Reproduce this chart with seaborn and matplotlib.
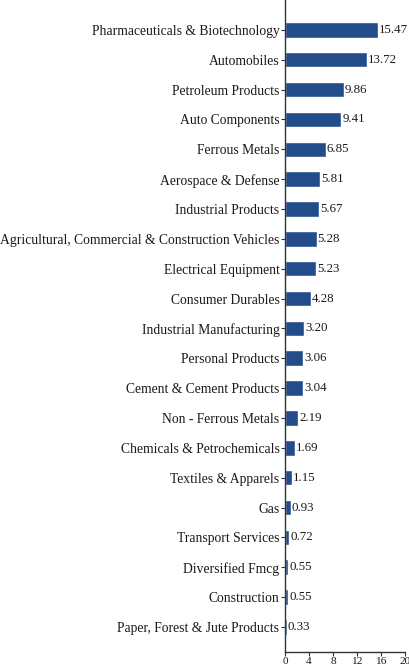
import matplotlib
matplotlib.use("Agg")
import matplotlib.pyplot as plt
import seaborn as sns
import pandas as pd

sectors = [
    "Pharmaceuticals & Biotechnology", "Automobiles", "Petroleum Products",
    "Auto Components", "Ferrous Metals", "Aerospace & Defense",
    "Industrial Products", "Agricultural, Commercial & Construction Vehicles",
    "Electrical Equipment", "Consumer Durables", "Industrial Manufacturing",
    "Personal Products", "Cement & Cement Products", "Non - Ferrous Metals",
    "Chemicals & Petrochemicals", "Textiles & Apparels", "Gas",
    "Transport Services", "Diversified Fmcg", "Construction",
    "Paper, Forest & Jute Products",
]
weights = [15.47, 13.72, 9.86, 9.41, 6.85, 5.81, 5.67, 5.28, 5.23, 4.28, 3.20,
           3.06, 3.04, 2.19, 1.69, 1.15, 0.93, 0.72, 0.55, 0.55, 0.33]
x_ticks = [0, 4, 8, 12, 16, 20]

df = pd.DataFrame({"sector": sectors, "weight": weights})

sns.set_style("white")
plt.rcParams["font.family"] = ["Liberation Serif", "DejaVu Serif"]

fig = plt.figure(figsize=(4.10, 6.71), dpi=100)
ax = fig.add_axes([285 / 410, 1 - 652 / 671, 120 / 410, 652 / 671])

bar_color = "#234d8a"
sns.barplot(data=df, x="weight", y="sector", color=bar_color, width=0.52,
            saturation=1, ax=ax)

for i, v in enumerate(weights):
    ax.text(v + 0.15, i, f"{v:.2f}", va="center", ha="left", fontsize=9.3,
            color="#1a1a1a")

ax.set_xlim(0, 20)
ax.set_ylim(20.84, -1.0)
ax.set_xticks(x_ticks)
ax.set_xticklabels([str(t) for t in x_ticks], fontsize=8.2, color="#1a1a1a")
ax.tick_params(axis="y", labelsize=9.8, labelcolor="#1a1a1a", length=3,
               width=0.8, color="#333333", pad=1, left=True)
ax.tick_params(axis="x", length=3, width=0.8, color="#333333", pad=0.5,
               bottom=True)
ax.set_xlabel("")
ax.set_ylabel("")
for side in ["top", "right"]:
    ax.spines[side].set_visible(False)
for side in ["left", "bottom"]:
    ax.spines[side].set_color("#333333")
    ax.spines[side].set_linewidth(1.0)

fig.savefig("out.png", dpi=100)
